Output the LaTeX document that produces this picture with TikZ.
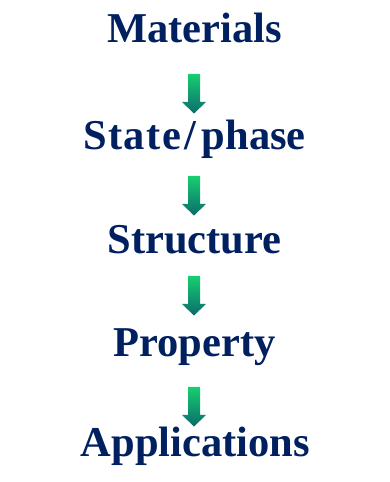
\documentclass[tikz,border=0pt]{standalone}
\usepackage{fontspec}
\setmainfont{Liberation Serif}
\usepackage{tikz}
\usetikzlibrary{positioning}
\definecolor{stepnavy}{RGB}{0,32,96}
\definecolor{arrowtop}{RGB}{24,206,112}
\definecolor{arrowbot}{RGB}{10,108,108}
\tikzset{
  stage/.style={anchor=base,inner sep=0pt,text=stepnavy,
                font=\fontsize{42.5}{50}\selectfont\bfseries},
  pics/downarrow/.style={code={
    \shade[top color=arrowtop,bottom color=arrowbot]
      (-6,0) -- (6,0) -- (6,-28) -- (12,-28) -- (0,-39.5) -- (-12,-28) -- (-6,-28) -- cycle;
  }},
}
\begin{document}
\begin{tikzpicture}[x=1pt,y=1pt]
  \useasboundingbox (0,0) rectangle (389,482);
  % ---------------- stages ----------------
  \node[stage] (materials)    at (194.5,439) {Materials};
  \node[stage] (statephase)   at (194.5,332)
    {{\addfontfeature{LetterSpace=3.5}State}\kern3pt/\kern6pt phase};
  \node[stage] (structure)    at (194.5,228) {Structure};
  \node[stage] (property)     at (194.5,125) {Property};
  \node[stage] (applications) at (195.5,25)  {Applications};
  % ---------------- arrows ----------------
  \pic (arrA) at (194,408) {downarrow};
  \pic (arrB) at (194,306) {downarrow};
  \pic (arrC) at (194,206) {downarrow};
  \pic (arrD) at (194,95)  {downarrow};
\end{tikzpicture}
\end{document}
